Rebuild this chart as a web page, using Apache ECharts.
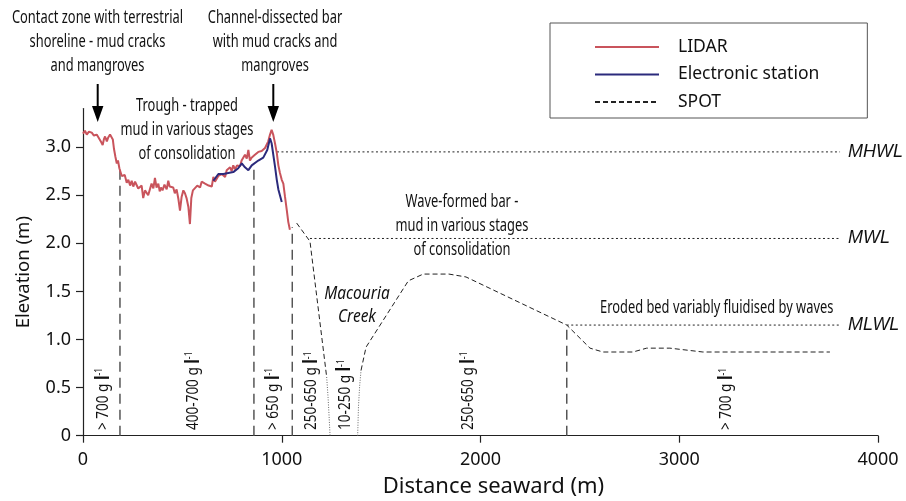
<!DOCTYPE html>
<html>
<head>
<meta charset="utf-8">
<script src="https://cdn.jsdelivr.net/npm/echarts@6/dist/echarts.min.js"></script>
<style>
  html, body { margin: 0; padding: 0; background: #fff; }
  #chart { width: 906px; height: 501px; }
</style>
</head>
<body>
<div id="chart"></div>
<script>
// LIDAR elevation profile
const lidarDist = [0, 10, 19, 30, 44, 55, 69, 78, 86, 92, 99, 105, 111, 120, 127, 136, 144, 150, 156, 163, 170, 176, 183, 190, 195, 203, 210, 220, 228, 237, 245, 253, 262, 270, 278, 287, 295, 303, 312, 320, 328, 337, 345, 354, 362, 370, 379, 386, 392, 400, 410, 421, 429, 436, 443, 454, 462, 471, 480, 488, 496, 505, 513, 521, 530, 538, 545, 553, 563, 575, 589, 597, 605, 614, 622, 632, 640, 648, 656, 664, 673, 681, 689, 698, 706, 715, 723, 731, 740, 748, 756, 765, 775, 790, 798, 807, 815, 824, 832, 840, 848, 857, 865, 874, 882, 891, 899, 907, 916, 924, 932, 941, 949, 957, 962, 966, 975, 983, 991, 1000, 1008, 1016, 1025, 1033, 1041];
const lidarElev = [3.14, 3.17, 3.13, 3.16, 3.15, 3.12, 3.13, 3.10, 3.09, 3.05, 3.02, 3.08, 3.11, 3.06, 3.10, 3.13, 3.14, 3.08, 2.98, 2.90, 2.83, 2.86, 2.78, 2.76, 2.70, 2.68, 2.71, 2.63, 2.66, 2.60, 2.65, 2.59, 2.64, 2.62, 2.57, 2.56, 2.60, 2.47, 2.55, 2.56, 2.50, 2.52, 2.62, 2.57, 2.68, 2.58, 2.62, 2.54, 2.58, 2.55, 2.61, 2.56, 2.65, 2.59, 2.60, 2.58, 2.52, 2.56, 2.46, 2.34, 2.48, 2.55, 2.52, 2.47, 2.38, 2.20, 2.47, 2.55, 2.54, 2.60, 2.58, 2.64, 2.66, 2.62, 2.64, 2.60, 2.58, 2.59, 2.69, 2.64, 2.62, 2.70, 2.68, 2.72, 2.70, 2.69, 2.76, 2.74, 2.79, 2.75, 2.81, 2.77, 2.81, 2.80, 2.86, 2.85, 2.92, 2.88, 2.97, 2.86, 2.89, 2.88, 2.92, 2.91, 2.95, 2.94, 2.96, 2.95, 2.99, 3.00, 3.06, 3.13, 3.18, 3.13, 3.08, 3.04, 2.94, 2.81, 2.73, 2.66, 2.62, 2.49, 2.35, 2.22, 2.14];

// Electronic station survey
const stationDist = [656, 681, 706, 731, 756, 781, 799, 815, 832, 849, 882, 907, 927, 941, 949, 966, 975, 983, 991, 1000];
const stationElev = [2.65, 2.72, 2.72, 2.73, 2.74, 2.78, 2.83, 2.79, 2.76, 2.81, 2.86, 2.89, 2.97, 3.09, 3.04, 2.80, 2.66, 2.56, 2.56, 2.43];

// SPOT-derived profile (null = gap across the creek bed)
const spotDist = [1075, 1142, 1226, null, 1399, 1424, 1637, 1712, 1841, 1927, 2434, 2551, 2616, 2767, 2836, 2953, 3119, 3758];
const spotElev = [2.21, 2.02, 0.61, null, 0.68, 0.92, 1.61, 1.68, 1.68, 1.65, 1.15, 0.91, 0.87, 0.87, 0.91, 0.91, 0.87, 0.87];

// Macouria Creek banks below the SPOT coverage
const creekLeftDist = [1226, 1233, 1238, 1243];
const creekLeftElev = [0.61, 0.40, 0.21, 0];
const creekRightDist = [1382, 1386, 1392, 1399];
const creekRightElev = [0, 0.30, 0.52, 0.68];

// Zone boundaries (distance, elevation where the boundary meets the profile)
const boundaryDist = [186, 860, 1053, 2434];
const boundaryTop = [2.78, 2.80, 2.17, 1.15];

// Tidal levels
const tideNames = ['MHWL', 'MWL', 'MLWL'];
const tideElev = [2.95, 2.05, 1.15];
const tideStart = [976, 1142, 2434];
const tideEnd = 3809;

// Mud concentration of each zone
const zoneDist = [102, 555, 957, 1151, 1318, 1939, 3239];
const zoneText = ['> 700', '400-700', '> 650', '250-650', '10-250', '250-650', '> 700'];
const zoneBase = 0.06;

// Axes
const xTicks = [0, 1000, 2000, 3000, 4000];
const yTicks = [0, 0.5, 1.0, 1.5, 2.0, 2.5, 3.0];

const REGULAR = '"Noto Sans", "Open Sans", sans-serif';
const ARIAL = '"Liberation Sans", Arial, sans-serif';
const NOTE_FONT = '17.5px "Noto Sans", sans-serif';
const NOTE_SCALE = 0.735;

const pairs = (xs, ys) => xs.map((x, i) => (x === null ? '-' : [x, ys[i]]));

const boundaryData = [];
boundaryDist.forEach((x, i) => {
  boundaryData.push([x, 0], [x, boundaryTop[i]], '-');
});

const tideSeries = tideNames.map((name, i) => ({
  name: name,
  type: 'line',
  data: [[tideStart[i], tideElev[i]], [tideEnd, tideElev[i]]],
  symbol: 'none',
  silent: true,
  lineStyle: { color: '#222', width: 1, type: [2, 2.5] },
  endLabel: {
    show: true,
    formatter: name,
    distance: 8,
    fontFamily: ARIAL,
    fontStyle: 'italic',
    fontSize: 18,
    color: '#111'
  },
  z: 2
}));

const chart = echarts.init(document.getElementById('chart'), null, { renderer: 'canvas' });

chart.setOption({
  animation: false,
  backgroundColor: '#fff',
  grid: { left: 83, right: 28, top: 108.6, bottom: 65.3, outerBoundsMode: 'none' },
  legend: {
    data: ['LIDAR', 'Electronic station', 'SPOT'],
    orient: 'vertical',
    left: 550,
    top: 23,
    itemWidth: 64,
    itemHeight: 14,
    itemGap: 9.5,
    padding: [15, 48, 7, 44],
    borderColor: '#555',
    borderWidth: 1,
    selectedMode: false,
    itemStyle: { opacity: 0 },
    textStyle: { fontFamily: REGULAR, fontSize: 17.5, color: '#111', lineHeight: 14, padding: [0, 0, 0, 14] }
  },
  xAxis: {
    type: 'value',
    min: 0,
    max: 4000,
    interval: 1000,
    name: 'Distance seaward (m)',
    nameLocation: 'middle',
    nameGap: 40,
    nameTextStyle: { fontFamily: REGULAR, fontSize: 22, color: '#111', padding: [0, 0, 0, 26] },
    axisLine: { lineStyle: { color: '#222', width: 1.2 } },
    axisTick: { length: 7, lineStyle: { color: '#222', width: 1.2 }, customValues: xTicks },
    axisLabel: { fontFamily: REGULAR, fontSize: 18, color: '#111', margin: 15, customValues: xTicks, formatter: v => String(v) },
    splitLine: { show: false }
  },
  yAxis: {
    type: 'value',
    min: 0,
    max: 3.4,
    name: 'Elevation (m)',
    nameLocation: 'middle',
    nameGap: 50,
    nameRotate: 90,
    nameTextStyle: { fontFamily: REGULAR, fontSize: 18.5, color: '#111' },
    axisLine: { show: true, lineStyle: { color: '#222', width: 1.2 } },
    axisTick: { show: true, length: 7, lineStyle: { color: '#222', width: 1.2 }, customValues: yTicks },
    axisLabel: {
      fontFamily: REGULAR, fontSize: 18, color: '#111', margin: 12,
      customValues: yTicks,
      formatter: v => (v === 0 ? '0' : v.toFixed(1))
    },
    splitLine: { show: false }
  },
  series: [
    {
      name: 'zone boundaries',
      type: 'line',
      data: boundaryData,
      symbol: 'none',
      silent: true,
      lineStyle: { color: '#555', width: 1.5, type: [10, 6] },
      z: 1
    },
    ...tideSeries,
    {
      name: 'creek left bank',
      type: 'line',
      data: pairs(creekLeftDist, creekLeftElev),
      symbol: 'none',
      silent: true,
      lineStyle: { color: '#666', width: 1, type: [1, 1.5] },
      z: 2
    },
    {
      name: 'creek right bank',
      type: 'line',
      data: pairs(creekRightDist, creekRightElev),
      symbol: 'none',
      silent: true,
      lineStyle: { color: '#666', width: 1, type: [1, 1.5] },
      z: 2
    },
    {
      name: 'SPOT',
      type: 'line',
      data: pairs(spotDist, spotElev),
      symbol: 'none',
      lineStyle: { color: '#222', width: 1, type: [5, 3] },
      itemStyle: { color: '#222' },
      z: 3
    },
    {
      name: 'LIDAR',
      type: 'line',
      data: pairs(lidarDist, lidarElev),
      symbol: 'none',
      lineStyle: { color: '#c9545c', width: 2 },
      itemStyle: { color: '#c9545c' },
      z: 4
    },
    {
      name: 'Electronic station',
      type: 'line',
      data: pairs(stationDist, stationElev),
      symbol: 'none',
      lineStyle: { color: '#2b2a7c', width: 2 },
      itemStyle: { color: '#2b2a7c' },
      z: 5
    }
  ]
});

// Text annotations and arrows
const note = (x, y, text, extra, scale) => ({
  type: 'text', x: x, y: y, scaleX: scale || NOTE_SCALE,
  style: Object.assign({ text: text, font: NOTE_FONT, lineHeight: 24, textAlign: 'center', textVerticalAlign: 'middle', fill: '#111' }, extra || {})
});
const arrow = (x) => [
  { type: 'line', shape: { x1: x, y1: 84, x2: x, y2: 108 }, style: { stroke: '#000', lineWidth: 2 } },
  { type: 'polygon', shape: { points: [[x - 5.7, 106], [x + 5.7, 106], [x, 122]] }, style: { fill: '#000' } }
];

// Concentration labels, placed at each zone's distance on the x scale
const zoneLabels = zoneDist.map((d, i) => {
  const p = chart.convertToPixel({ gridIndex: 0 }, [d, zoneBase]);
  return {
    type: 'text',
    x: p[0], y: p[1],
    rotation: Math.PI / 2,
    scaleX: 0.82,
    style: {
      text: '{t|' + zoneText[i] + ' g }{l|l}{s|-1}',
      textAlign: 'left',
      textVerticalAlign: 'middle',
      rich: {
        t: { fontFamily: 'Noto Sans', fontSize: 16.5, fill: '#111' },
        l: { fontFamily: 'Noto Sans', fontSize: 19, fontWeight: 'bold', fill: '#111' },
        s: { fontFamily: 'Noto Sans', fontSize: 10.5, fill: '#111', verticalAlign: 'top' }
      }
    }
  };
});

chart.setOption({
  graphic: [
    note(97.5, 42, 'Contact zone with terrestrial\nshoreline - mud cracks\nand mangroves'),
    note(275, 42, 'Channel-dissected bar\nwith mud cracks and\nmangroves'),
    note(187, 130, 'Trough - trapped\nmud in various stages\nof consolidation'),
    note(462, 226, 'Wave-formed bar -\nmud in various stages\nof consolidation'),
    note(357, 305, 'Macouria\nCreek', { font: 'italic 18px "Noto Sans", sans-serif', lineHeight: 23 }, 0.86),
    note(716.7, 308, 'Eroded bed variably fluidised by waves'),
    ...arrow(97.7),
    ...arrow(273.3),
    ...zoneLabels
  ]
});
</script>
</body>
</html>
